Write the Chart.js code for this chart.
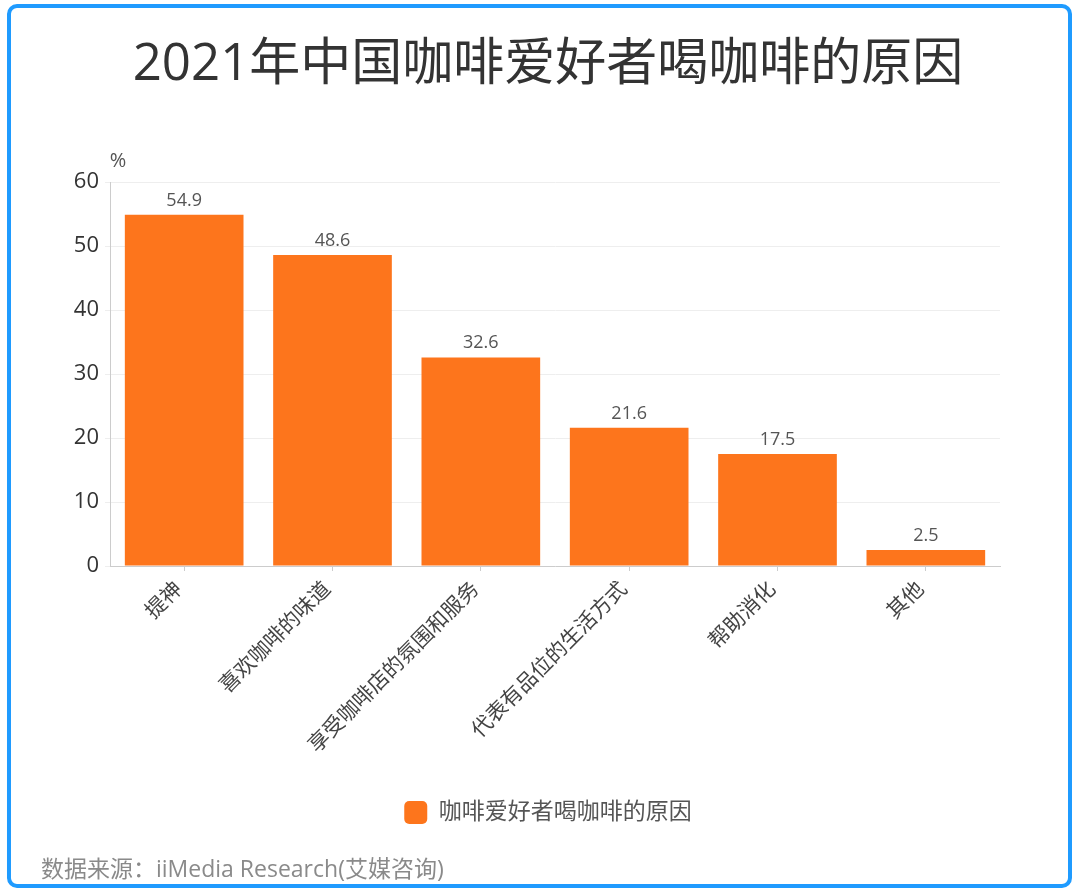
<!DOCTYPE html>
<html>
<head>
<meta charset="utf-8">
<script src="https://cdn.jsdelivr.net/npm/chart.js@4/dist/chart.umd.min.js"></script>
<style>
  html, body { margin: 0; padding: 0; background: #fff; }
  #wrap { position: relative; width: 1080px; height: 892px; }
</style>
</head>
<body>
<div id="wrap"><canvas id="chart"></canvas></div>
<script>
// chart data
const categories = ['提神', '喜欢咖啡的味道', '享受咖啡店的氛围和服务', '代表有品位的生活方式', '帮助消化', '其他'];
const reasonValues = [54.9, 48.6, 32.6, 21.6, 17.5, 2.5];
const yTicks = [0, 10, 20, 30, 40, 50, 60];
const seriesName = '咖啡爱好者喝咖啡的原因';
const titleText = '2021年中国咖啡爱好者喝咖啡的原因';
const sourceText = '数据来源：iiMedia Research(艾媒咨询)';
const unitText = '%';

const FONT = "'Open Sans', 'Noto Sans CJK SC', sans-serif";
Chart.defaults.font.family = FONT;

// frame, unit label, bar values and source line
const extras = {
  id: 'extras',
  afterLayout(chart) {
    // widen the y label box to the left so tick labels are not clipped
    chart.scales.y.left = 40;
  },
  afterDatasetsDraw(chart) {
    const ctx = chart.ctx;
    const meta = chart.getDatasetMeta(0);
    ctx.save();
    ctx.font = '18px ' + FONT;
    ctx.fillStyle = '#555';
    ctx.textAlign = 'center';
    ctx.textBaseline = 'alphabetic';
    meta.data.forEach(function(bar, i) {
      ctx.fillText(chart.data.datasets[0].data[i].toFixed(1), bar.x, bar.y - 9);
    });
    ctx.restore();
  },
  afterDraw(chart) {
    const ctx = chart.ctx;
    const area = chart.chartArea;
    ctx.save();
    // unit label above y axis
    ctx.font = '20px ' + FONT;
    ctx.fillStyle = '#555';
    ctx.textAlign = 'center';
    ctx.textBaseline = 'middle';
    ctx.fillText(unitText, area.left + 8, area.top - 21);
    // source
    ctx.font = '23px ' + FONT;
    ctx.fillStyle = '#8a8a8a';
    ctx.textAlign = 'left';
    ctx.fillText(sourceText, 41, 870);
    // blue frame
    ctx.strokeStyle = '#1f9bff';
    ctx.lineWidth = 4;
    ctx.beginPath();
    ctx.roundRect(9, 6, 1061, 880, 8);
    ctx.stroke();
    ctx.restore();
  }
};

const canvas = document.getElementById('chart');
new Chart(canvas, {
  type: 'bar',
  data: {
    labels: categories,
    datasets: [{
      label: seriesName,
      data: reasonValues,
      backgroundColor: '#fd751c',
      borderWidth: 0,
      barPercentage: 1,
      categoryPercentage: 0.8
    }]
  },
  options: {
    responsive: true,
    maintainAspectRatio: false,
    animation: false,
    layout: { padding: { top: 20, left: 96, right: 80, bottom: 58 } },
    scales: {
      x: {
        afterFit: function(scale) { scale.height = 225; },
        grid: { drawOnChartArea: false, offset: false, color: '#ccc', tickLength: 5 },
        border: { color: '#ccc' },
        ticks: {
          minRotation: 45,
          maxRotation: 45,
          color: '#444',
          font: { size: 21 },
          padding: 6,
          labelOffset: -5
        }
      },
      y: {
        min: 0,
        max: 60,
        afterFit: function(scale) { scale.width = 14; },
        afterBuildTicks: function(scale) {
          scale.ticks = yTicks.map(function(v) { return { value: v }; });
        },
        grid: { color: '#eee', tickLength: 5 },
        border: { color: '#ccc' },
        ticks: { color: '#333', font: { size: 22 }, padding: 6 }
      }
    },
    plugins: {
      title: {
        display: true,
        text: titleText,
        color: '#333',
        font: { size: 51, weight: 'normal' },
        padding: { top: 15, bottom: 86 }
      },
      legend: {
        position: 'bottom',
        labels: {
          boxWidth: 23,
          boxHeight: 23,
          useBorderRadius: true,
          borderRadius: 5,
          color: '#555',
          font: { size: 23 },
          padding: 10
        }
      },
      tooltip: { enabled: false }
    }
  },
  plugins: [extras]
});
</script>
</body>
</html>
